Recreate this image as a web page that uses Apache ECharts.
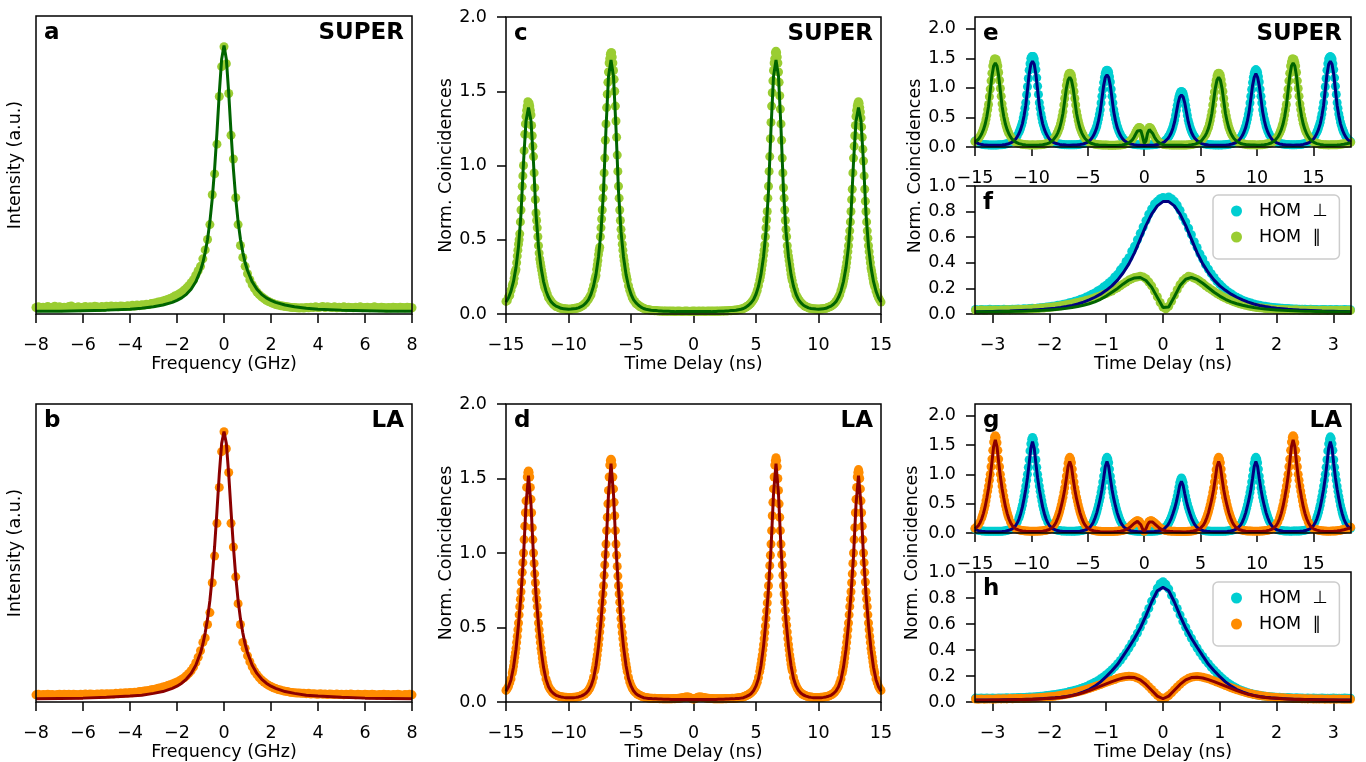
<!DOCTYPE html>
<html><head><meta charset="utf-8">
<script src="https://cdn.jsdelivr.net/npm/echarts@6.0.0/dist/echarts.min.js"></script>
<style>html,body{margin:0;padding:0;background:#fff}#chart{width:1366px;height:762px}</style>
</head><body><div id="chart"></div>
<script>
// ---------------- DATA ----------------
// Panels a/b: spectra, data on a 0.1 GHz grid from -8 GHz
const A_X0 = -8, A_STEP = 0.1;
const A_DATA = [.022,.024,.021,.023,.022,.025,.022,.023,.026,.022,
.024,.021,.023,.022,.025,.027,.023,.022,.024,.021,
.023,.025,.022,.024,.023,.026,.024,.022,.025,.023,
.026,.024,.027,.025,.026,.024,.027,.026,.025,.028,
.026,.029,.027,.03,.028,.031,.03,.033,.032,.035,
.036,.038,.04,.041,.044,.046,.049,.052,.055,.06,
.063,.068,.073,.08,.087,.095,.105,.115,.13,.145,
.16,.185,.215,.25,.3,.4,.47,.57,.73,.83,
.897,.84,.74,.6,.52,.39,.3,.23,.19,.16,
.135,.115,.098,.085,.074,.065,.058,.052,.046,.042,
.038,.035,.032,.03,.028,.027,.025,.024,.023,.022,
.022,.021,.02,.021,.02,.022,.021,.023,.022,.024,
.022,.023,.025,.022,.024,.023,.022,.024,.021,.023,
.022,.024,.021,.023,.022,.021,.023,.022,.024,.021,
.022,.023,.021,.022,.024,.022,.021,.023,.022,.02,
.022,.021,.023,.022,.021,.023,.022,.021,.023,.022,
.021];
const B_DATA = [.024,.026,.023,.025,.024,.026,.024,.025,.023,.025,
.026,.024,.026,.025,.026,.024,.026,.025,.024,.026,
.025,.027,.025,.027,.026,.025,.027,.026,.028,.026,
.028,.027,.028,.027,.029,.028,.03,.029,.031,.03,
.032,.031,.033,.033,.035,.035,.037,.038,.039,.041,
.042,.044,.046,.048,.05,.052,.055,.058,.06,.064,
.067,.071,.076,.081,.088,.096,.105,.117,.132,.15,
.172,.2,.215,.26,.3,.4,.49,.6,.72,.84,
.907,.85,.77,.6,.52,.42,.33,.26,.2,.18,
.155,.135,.118,.103,.092,.082,.074,.067,.061,.056,
.052,.048,.045,.042,.04,.038,.036,.035,.033,.032,
.031,.03,.03,.029,.029,.028,.029,.027,.028,.027,
.026,.028,.026,.027,.025,.027,.026,.025,.027,.025,
.026,.024,.026,.025,.027,.025,.024,.026,.025,.024,
.026,.025,.024,.026,.025,.023,.025,.024,.026,.024,
.025,.023,.025,.024,.026,.024,.023,.025,.024,.026,
.024];
const AB_FIT_X = [-8,-7,-6,-5,-4,-3.5,-3,-2.6,-2.2,-2,-1.8,-1.6,-1.4,-1.2,-1,-0.9,-0.8,-0.7,-0.6,-0.5,-0.4,-0.3,-0.2,-0.1,0,
0.1,0.2,0.3,0.4,0.5,0.6,0.7,0.8,0.9,1,1.2,1.4,1.6,1.8,2,2.2,2.6,3,3.5,4,5,6,7,8];
const A_FIT = [.009,.009,.011,.013,.016,.019,.024,.030,.039,.046,.054,.066,.083,.108,.146,.172,.207,.251,.310,.387,.486,.608,.742,.855,.901,
.855,.742,.608,.486,.387,.310,.251,.207,.172,.146,.108,.083,.066,.054,.046,.039,.030,.024,.019,.016,.013,.011,.009,.009];
const B_FIT = [.011,.012,.013,.016,.020,.023,.029,.035,.046,.053,.063,.077,.096,.123,.165,.194,.232,.279,.341,.421,.521,.640,.765,.867,.908,
.867,.765,.640,.521,.421,.341,.279,.232,.194,.165,.123,.096,.077,.063,.053,.046,.035,.029,.023,.020,.016,.013,.012,.011];

// Panels c/d: data on 0.1 ns grid, fits on 0.2 ns grid, from -15 ns
const CD_X0 = -15, CD_DSTEP = 0.1, CD_FSTEP = 0.2;
const C_DATA = [.085,.09,.115,.125,.16,.19,.21,.275,.30,.39,
.47,.54,.70,.86,1.0,1.21,1.33,1.40,1.42,1.40,
1.34,1.20,1.06,.85,.68,.58,.46,.37,.32,.27,
.22,.18,.16,.135,.11,.10,.085,.075,.065,.06,
.05,.05,.045,.04,.04,.035,.037,.033,.035,.03,
.034,.031,.034,.033,.037,.035,.04,.038,.043,.045,
.05,.055,.06,.07,.075,.09,.10,.115,.13,.16,
.19,.23,.26,.33,.40,.45,.58,.70,.85,1.05,
1.28,1.48,1.63,1.72,1.76,1.73,1.64,1.50,1.30,1.07,
.86,.70,.57,.47,.39,.33,.27,.23,.19,.16,
.135,.11,.095,.085,.07,.065,.06,.05,.048,.042,
.038,.035,.03,.03,.028,.027,.026,.024,.024,.022,
.023,.022,.02,.021,.02,.019,.02,.018,.02,.019,
.018,.02,.019,.018,.02,.017,.019,.018,.02,.018,
.019,.017,.019,.018,.02,.018,.019,.017,.019,.018,
.02,.018,.019,.017,.02,.018,.019,.018,.02,.017,
.019,.018,.02,.019,.018,.02,.018,.019,.02,.018,
.02,.019,.021,.02,.021,.02,.022,.021,.022,.023,
.022,.024,.025,.025,.027,.027,.029,.031,.033,.034,
.039,.041,.047,.052,.058,.066,.074,.086,.097,.113,
.134,.158,.192,.228,.272,.33,.395,.465,.58,.69,
.86,1.06,1.29,1.49,1.64,1.72,1.77,1.73,1.63,1.47,
1.28,1.05,.85,.70,.57,.46,.39,.33,.27,.225,
.19,.16,.13,.115,.10,.088,.076,.068,.061,.053,
.05,.046,.042,.039,.038,.036,.036,.034,.033,.033,
.032,.034,.033,.035,.036,.037,.039,.042,.046,.049,
.053,.058,.066,.073,.084,.097,.113,.13,.158,.185,
.22,.265,.315,.38,.46,.56,.69,.84,1.05,1.2,
1.33,1.4,1.43,1.39,1.32,1.19,1.03,.84,.69,.56,
.46,.38,.31,.265,.215,.185,.155,.13,.11,.095,
.08];
// extra points between the 0.1 ns bins around each peak of c/d (from centre-1.25 ns, 0.1 ns apart)
const CD_PEAKS = [-13.2, -6.6, 6.6, 13.2];
const C_PEAK_DATA = [.205,.24,.29,.345,.43,.50,.62,.78,.93,1.1,1.28,1.37,1.43,1.42,1.37,1.27,1.13,.95,.77,.63,.52,.41,.345,.295,.245,.2,
.245,.30,.36,.43,.52,.64,.78,.95,1.17,1.39,1.56,1.69,1.75,1.76,1.69,1.58,1.40,1.19,.96,.78,.63,.52,.43,.36,.30,.25,
.25,.30,.36,.43,.52,.635,.78,.96,1.18,1.40,1.57,1.69,1.76,1.76,1.69,1.56,1.38,1.17,.95,.78,.63,.52,.42,.36,.30,.245,
.2,.24,.29,.345,.42,.51,.62,.77,.95,1.13,1.27,1.37,1.42,1.42,1.36,1.26,1.11,.93,.76,.62,.51,.42,.345,.29,.24,.2];
const C_FIT = [.08,.11,.154,.219,.314,.454,.675,1.02,1.30,1.39,
1.30,1.02,.675,.454,.314,.22,.155,.112,.083,.066,
.053,.046,.038,.036,.034,.032,.033,.035,.037,.041,
.049,.059,.075,.097,.133,.187,.267,.384,.556,.828,
1.25,1.60,1.71,1.60,1.25,.828,.556,.384,.267,.187,
.133,.097,.075,.059,.046,.037,.032,.029,.025,.024,
.023,.021,.02,.019,.018,.018,.017,.017,.016,.016,
.016,.016,.016,.016,.016,.016,.016,.016,.016,.016,
.016,.016,.016,.017,.017,.018,.018,.019,.02,.021,
.023,.024,.025,.029,.032,.037,.046,.059,.075,.097,
.133,.187,.267,.384,.556,.828,1.25,1.60,1.71,1.60,
1.25,.828,.556,.384,.267,.187,.133,.097,.075,.059,
.049,.041,.037,.035,.033,.032,.034,.036,.038,.046,
.053,.066,.083,.112,.155,.22,.314,.454,.675,1.02,
1.30,1.39,1.30,1.02,.675,.454,.314,.219,.154,.11,
.08];
const D_DATA = [.078,.09,.105,.13,.155,.195,.24,.30,.36,.44,
.53,.64,.74,.87,1.0,1.18,1.35,1.51,1.55,1.51,
1.36,1.17,1.0,.86,.74,.64,.53,.44,.36,.295,
.24,.195,.155,.13,.105,.09,.078,.066,.06,.052,
.048,.043,.04,.037,.036,.034,.033,.031,.032,.03,
.031,.03,.031,.03,.032,.031,.033,.034,.036,.038,
.042,.045,.05,.054,.062,.068,.08,.092,.112,.135,
.165,.21,.255,.315,.385,.47,.56,.67,.78,.92,
1.06,1.24,1.42,1.59,1.63,1.59,1.43,1.25,1.06,.91,
.78,.67,.56,.465,.385,.315,.255,.205,.165,.135,
.112,.092,.08,.068,.062,.054,.049,.045,.041,.037,
.034,.031,.03,.028,.027,.026,.026,.025,.024,.025,
.023,.024,.023,.022,.023,.022,.021,.022,.021,.022,
.021,.022,.021,.022,.023,.022,.024,.023,.025,.026,
.027,.029,.03,.032,.033,.034,.033,.03,.026,.022,
.02,.022,.026,.03,.033,.034,.033,.032,.03,.029,
.027,.026,.025,.024,.023,.023,.022,.022,.021,.022,
.021,.022,.021,.022,.022,.023,.022,.023,.024,.023,
.024,.025,.024,.026,.026,.027,.028,.029,.031,.032,
.035,.038,.042,.046,.05,.055,.062,.07,.08,.093,
.11,.133,.165,.205,.255,.315,.385,.465,.56,.665,
.78,.915,1.06,1.25,1.43,1.59,1.64,1.58,1.42,1.24,
1.06,.92,.78,.67,.56,.47,.385,.315,.255,.21,
.165,.135,.112,.092,.08,.068,.061,.054,.049,.045,
.041,.038,.036,.034,.033,.032,.031,.03,.031,.03,
.031,.03,.032,.031,.033,.034,.036,.037,.04,.043,
.048,.052,.06,.066,.078,.09,.105,.13,.155,.195,
.24,.295,.36,.44,.53,.64,.74,.86,1.0,1.17,
1.36,1.51,1.56,1.5,1.35,1.18,1.0,.87,.74,.64,
.53,.44,.36,.3,.24,.195,.155,.13,.105,.09,
.078];
const D_PEAK_DATA = [.215,.27,.33,.40,.485,.585,.69,.805,.935,1.09,1.27,1.44,1.54,1.54,1.44,1.27,1.09,.93,.80,.69,.585,.485,.40,.33,.265,.215,
.23,.285,.35,.425,.515,.615,.725,.85,.99,1.15,1.33,1.51,1.62,1.62,1.51,1.34,1.15,.985,.845,.725,.615,.51,.425,.35,.285,.23,
.23,.285,.35,.425,.51,.61,.72,.845,.985,1.15,1.34,1.51,1.62,1.62,1.5,1.33,1.15,.99,.85,.725,.615,.515,.425,.35,.285,.23,
.215,.265,.33,.40,.485,.585,.69,.80,.93,1.09,1.27,1.44,1.54,1.54,1.43,1.27,1.09,.935,.805,.69,.585,.485,.40,.33,.27,.215];
const D_FIT = [.072,.102,.15,.233,.354,.519,.722,.978,1.325,1.52,
1.325,.978,.722,.519,.354,.234,.151,.103,.074,.057,
.045,.039,.034,.031,.029,.029,.029,.029,.031,.034,
.040,.047,.058,.077,.108,.158,.245,.372,.546,.76,
1.03,1.395,1.60,1.395,1.03,.76,.546,.372,.245,.158,
.108,.075,.056,.044,.036,.029,.026,.023,.023,.021,
.021,.02,.02,.019,.018,.018,.017,.017,.016,.016,
.016,.016,.016,.016,.016,.016,.016,.016,.016,.016,
.016,.016,.016,.017,.017,.018,.018,.019,.02,.02,
.021,.021,.023,.023,.026,.029,.036,.044,.056,.075,
.108,.158,.245,.372,.546,.76,1.03,1.395,1.60,1.395,
1.03,.76,.546,.372,.245,.158,.108,.077,.058,.047,
.040,.034,.031,.029,.029,.029,.029,.031,.034,.039,
.045,.057,.074,.103,.151,.234,.354,.519,.722,.978,
1.325,1.52,1.325,.978,.722,.519,.354,.233,.15,.102,
.072];

// Panels e/g: 0.15 ns grid from -15 ns
const EG_X0 = -15, EG_STEP = 0.15;
const E_PAR_DATA = [.09,.11,.14,.185,.235,.31,.40,.54,.72,.98,1.25,1.44,1.49,
1.43,1.26,.99,.73,.54,.40,.305,.23,.18,.135,.105,.085,
.07,.06,.052,.046,.041,.04,.037,.035,.034,.036,
.035,.034,.036,.037,.04,.043,.048,.055,.064,.076,.095,.12,.152,.197,.26,.335,.45,.6,.82,1.04,1.2,1.25,
1.21,1.05,.82,.6,.45,.335,.255,.195,.15,.115,.093,
.075,.062,.054,.047,.043,.038,.036,.034,.033,.032,.032,
.031,.03,.031,.03,.031,.032,.033,.035,.039,.044,.052,.063,.08,.105,.135,.185,.245,.3,.33,.31,.2,.07,
.115,.26,.33,.31,.255,.19,.14,.1,.075,.058,.048,.042,.038,.036,.035,.034,.034,.033,.033,.032,.033,.032,
.032,.033,.034,.036,.039,.043,.048,.055,.064,.078,.096,.12,.153,.198,.26,.335,.45,.6,.82,1.04,1.2,1.25,
1.21,1.05,.82,.6,.45,.335,.255,.196,.15,.116,.093,.075,
.064,.055,.049,.044,.04,.038,.037,.036,.036,.035,
.035,.036,.038,.04,.044,.049,.054,.062,.073,.088,.11,.14,.18,.235,.305,.4,.54,.72,.98,1.25,1.44,1.49,
1.43,1.26,.99,.73,.54,.40,.305,.235,.18,.137,.108,.086,
.072,.061,.053,.047,.043,.04,.038,.036,.035,.036,
.036,.036,.037,.039,.041,.045,.049,.054,.059,.065,.072,.08];
// extra points between bins around each peak of e/g (from centre-1.125 ns, 0.15 ns apart)
const E_PAR_PEAKS = [-13.2, -6.6, 0, 6.6, 13.2];
const E_PERP_PEAKS = [-9.9, -3.3, 3.3, 9.9, 16.5];
const E_PAR_PEAK_DATA = [.27,.355,.47,.63,.85,1.12,1.37,1.49,1.48,1.37,1.13,.86,.635,.47,.35,.265,
.23,.30,.39,.525,.71,.93,1.13,1.24,1.24,1.14,.94,.71,.525,.39,.295,.225,
.12,.16,.215,.275,.32,.325,.26,.13,.08,.19,.3,.325,.285,.22,.165,.12,
.225,.30,.39,.525,.71,.93,1.13,1.24,1.24,1.14,.94,.71,.525,.39,.295,.225,
.27,.355,.47,.63,.86,1.12,1.37,1.49,1.48,1.37,1.12,.86,.635,.47,.355,.265];
const E_PERP_PEAK_DATA = [.285,.37,.49,.655,.885,1.16,1.41,1.53,1.53,1.41,1.17,.89,.655,.49,.37,.28,
.245,.315,.415,.55,.745,.975,1.18,1.29,1.29,1.19,.98,.745,.55,.415,.315,.24,
.18,.23,.30,.40,.535,.705,.85,.93,.93,.85,.705,.535,.40,.30,.23,.18,
.24,.315,.415,.55,.745,.975,1.18,1.29,1.29,1.19,.98,.745,.55,.415,.315,.24,
.285,.37,.49,.655,.885,1.16,1.41,1.52,1.52,1.41,1.17,.89,.655,.49,.37,.28];
const E_PAR_FIT = [.082,.103,.131,.171,.224,.293,.384,.516,.69,.945,1.2,1.37,1.42,
1.37,1.2,.945,.69,.516,.384,.293,.224,.171,.131,.103,.082,
.068,.057,.049,.044,.039,.036,.034,.031,.030,.031,
.031,.030,.031,.032,.035,.039,.044,.050,.059,.071,.089,.111,.144,.187,.244,.319,.428,.571,.781,.993,1.132,1.18,
1.132,.993,.781,.571,.428,.319,.244,.187,.144,.111,.089,
.071,.058,.050,.043,.039,.034,.031,.030,.028,.028,.027,
.026,.026,.026,.025,.026,.026,.028,.03,.033,.037,.045,.055,.07,.092,.12,.165,.22,.27,.30,.28,.18,.06,
.10,.235,.295,.28,.23,.17,.125,.09,.065,.05,.041,.035,.033,.031,.031,.029,.029,.029,.028,.028,.028,.028,
.027,.027,.029,.031,.033,.038,.042,.049,.058,.071,.089,.111,.144,.187,.244,.319,.428,.571,.781,.993,1.132,1.18,
1.132,.993,.781,.571,.428,.319,.244,.187,.144,.111,.089,.071,
.06,.051,.045,.040,.036,.034,.033,.032,.032,.031,
.030,.031,.034,.036,.039,.044,.049,.057,.068,.082,.103,.131,.171,.224,.293,.384,.516,.69,.945,1.20,1.37,1.42,
1.37,1.20,.945,.69,.516,.384,.293,.224,.171,.131,.103,.082,
.068,.057,.049,.044,.039,.036,.034,.031,.030,.031,
.031,.031,.032,.034,.036,.04,.044,.048,.053,.058,.065,.073];
const E_PERP_DATA = [.1,.08,.066,.055,.048,.042,.039,.036,.035,.034,.034,.033,.034,
.033,.036,.037,.04,.043,.05,.056,.066,.078,.096,.12,.15,.195,.25,.325,.42,.56,.75,1.02,1.3,1.5,1.53,
1.49,1.31,1.03,.75,.56,.42,.32,.245,.188,.145,.114,.092,
.077,.065,.057,.051,.046,.043,.04,.04,.037,.036,
.037,.038,.039,.04,.043,.048,.053,.06,.07,.084,.104,.13,.165,.212,.275,.355,.475,.63,.86,1.09,1.25,1.3,
1.26,1.1,.86,.63,.475,.355,.272,.208,.16,.125,.1,.082,
.069,.059,.051,.047,.042,.038,.037,.035,.034,.033,
.034,.034,.035,.036,.038,.041,.044,.049,.056,.066,.08,.098,.124,.158,.203,.262,.345,.455,.62,.79,.9,.94,
.905,.79,.62,.455,.345,.262,.203,.157,.122,.096,.079,.065,
.056,.049,.044,.041,.038,.036,.035,.035,.034,.035,
.034,.035,.037,.038,.042,.046,.052,.059,.069,.082,.102,.128,.163,.21,.272,.355,.475,.63,.86,1.09,1.25,1.31,
1.26,1.1,.86,.63,.475,.355,.272,.208,.162,.126,.102,.082,
.07,.06,.053,.049,.045,.042,.041,.04,.038,.037,
.038,.04,.041,.042,.046,.052,.059,.068,.08,.096,.12,.15,.195,.25,.325,.42,.56,.75,1.02,1.3,1.49,1.53,
1.49,1.31,1.03,.75,.56,.42,.32,.245,.188,.145,.114,.092];
const E_PERP_FIT = [.09,.072,.058,.048,.041,.036,.032,.030,.029,.028,.028,.028,.028,
.027,.030,.031,.033,.036,.042,.047,.056,.067,.083,.105,.134,.175,.228,.299,.392,.527,.704,.965,1.227,1.40,1.45,
1.40,1.227,.965,.704,.527,.392,.299,.228,.175,.134,.105,.083,
.069,.058,.05,.044,.039,.036,.034,.033,.031,.031,
.031,.032,.033,.033,.036,.041,.045,.051,.061,.073,.092,.115,.149,.194,.254,.332,.446,.595,.815,1.035,1.18,1.22,
1.18,1.035,.815,.595,.446,.332,.254,.194,.149,.115,.092,.073,
.061,.051,.044,.040,.035,.031,.031,.029,.028,.027,
.028,.028,.028,.029,.031,.034,.037,.041,.048,.057,.070,.086,.111,.143,.186,.241,.322,.428,.585,.742,.846,.88,
.846,.742,.585,.428,.322,.241,.186,.143,.111,.086,.070,.057,
.048,.041,.037,.034,.031,.029,.028,.028,.028,.029,
.028,.029,.031,.031,.035,.039,.044,.051,.060,.072,.091,.115,.149,.194,.254,.332,.446,.595,.815,1.035,1.18,1.24,
1.18,1.035,.815,.595,.446,.332,.254,.194,.149,.115,.093,.074,
.062,.052,.046,.042,.038,.035,.035,.034,.031,.031,
.031,.033,.034,.035,.039,.044,.050,.058,.069,.083,.105,.134,.175,.228,.299,.392,.527,.704,.965,1.227,1.40,1.45,
1.40,1.227,.965,.704,.527,.392,.299,.228,.175,.134,.105,.083];
const G_PAR_DATA = [.08,.105,.14,.19,.26,.355,.475,.63,.8,1.0,1.26,1.55,1.66,
1.54,1.26,1.0,.8,.63,.47,.35,.255,.185,.135,.102,.08,
.066,.056,.047,.041,.037,.034,.032,.031,.031,.03,
.031,.031,.031,.032,.034,.037,.041,.047,.055,.067,.083,.11,.148,.2,.275,.365,.48,.61,.77,.97,1.19,1.29,
1.2,.97,.77,.61,.48,.365,.272,.2,.146,.107,.082,
.065,.053,.045,.039,.034,.03,.028,.026,.025,.024,.024,
.024,.025,.025,.027,.029,.031,.034,.037,.042,.05,.058,.074,.093,.118,.145,.172,.195,.207,.197,.152,.08,.03,
.078,.15,.197,.207,.195,.172,.145,.118,.093,.074,.058,.049,.041,.036,.033,.031,.029,.028,.027,.026,.026,.026,
.025,.025,.026,.028,.03,.034,.039,.045,.054,.066,.084,.11,.148,.2,.275,.365,.48,.61,.77,.97,1.19,1.29,
1.2,.97,.77,.61,.48,.365,.272,.2,.146,.107,.083,
.067,.056,.048,.042,.038,.035,.033,.032,.031,.031,.031,
.031,.031,.033,.035,.037,.041,.047,.055,.066,.08,.105,.14,.19,.26,.355,.475,.63,.8,1.0,1.26,1.55,1.66,
1.54,1.26,1.0,.8,.63,.47,.35,.255,.185,.135,.102,.08,
.066,.056,.047,.041,.037,.034,.032,.031,.031,.031,
.032,.033,.035,.038,.042,.047,.054,.061,.069,.079,.089,.1];
const G_PAR_PEAK_DATA = [.305,.415,.55,.715,.9,1.13,1.41,1.63,1.63,1.41,1.13,.9,.715,.55,.41,.30,
.235,.32,.42,.545,.69,.87,1.08,1.26,1.26,1.09,.87,.69,.545,.42,.32,.235,
.13,.16,.185,.203,.205,.178,.118,.05,.05,.115,.177,.205,.203,.185,.16,.13,
.235,.32,.42,.545,.69,.87,1.08,1.26,1.26,1.09,.87,.69,.545,.42,.32,.235,
.305,.415,.55,.715,.9,1.13,1.41,1.63,1.63,1.41,1.13,.9,.715,.55,.41,.30];
const G_PERP_PEAK_DATA = [.305,.415,.55,.71,.9,1.12,1.4,1.6,1.6,1.4,1.12,.9,.71,.55,.41,.30,
.235,.32,.42,.545,.69,.87,1.08,1.26,1.26,1.09,.87,.69,.545,.42,.32,.235,
.175,.235,.31,.4,.5,.63,.78,.91,.91,.78,.63,.5,.4,.31,.235,.175,
.235,.32,.42,.545,.69,.87,1.08,1.26,1.26,1.09,.87,.69,.545,.42,.32,.235,
.305,.415,.55,.71,.9,1.12,1.4,1.6,1.61,1.41,1.12,.9,.71,.55,.41,.30];
const G_PAR_FIT = [.072,.095,.126,.176,.243,.335,.449,.597,.759,.958,1.205,1.475,1.59,
1.475,1.205,.958,.759,.597,.449,.335,.243,.176,.126,.095,.072,
.059,.049,.041,.035,.031,.029,.027,.025,.026,.026,
.026,.026,.026,.027,.029,.032,.036,.042,.049,.060,.075,.100,.138,.189,.26,.348,.461,.585,.738,.927,1.134,1.22,
1.134,.927,.738,.585,.461,.348,.26,.189,.138,.100,.075,
.058,.047,.039,.033,.028,.024,.022,.020,.018,.018,.018,
.018,.019,.019,.021,.023,.025,.028,.030,.035,.044,.051,.066,.084,.108,.135,.162,.186,.198,.187,.14,.07,.025,
.07,.14,.187,.198,.186,.162,.135,.108,.084,.066,.051,.043,.035,.031,.028,.026,.024,.023,.021,.021,.020,.020,
.019,.019,.020,.022,.024,.028,.033,.039,.047,.058,.075,.100,.138,.189,.26,.348,.461,.585,.738,.927,1.134,1.22,
1.134,.927,.738,.585,.461,.348,.26,.189,.138,.100,.075,
.060,.049,.042,.036,.032,.029,.027,.026,.026,.026,.026,
.026,.025,.027,.029,.031,.035,.041,.049,.059,.072,.095,.126,.176,.243,.335,.449,.597,.759,.958,1.205,1.475,1.59,
1.475,1.205,.958,.759,.597,.449,.335,.243,.176,.126,.095,.072,
.059,.049,.041,.035,.031,.029,.027,.026,.026,.026,
.027,.028,.030,.033,.037,.042,.048,.055,.063,.072,.082,.093];
const G_PERP_DATA = [.07,.056,.047,.041,.036,.033,.031,.03,.029,.028,.028,.028,.029,
.028,.028,.029,.031,.034,.038,.045,.053,.065,.08,.103,.137,.19,.26,.355,.475,.625,.8,1.0,1.25,1.52,1.63,
1.51,1.25,1.0,.8,.625,.47,.35,.255,.187,.136,.103,.08,
.066,.055,.047,.041,.036,.033,.032,.031,.031,.031,
.031,.03,.031,.032,.034,.037,.042,.048,.056,.067,.084,.11,.148,.2,.275,.365,.48,.61,.77,.97,1.19,1.29,
1.2,.97,.77,.61,.48,.365,.272,.2,.146,.107,.082,.065,
.054,.046,.04,.036,.032,.03,.029,.028,.028,.028,
.028,.028,.028,.029,.03,.032,.035,.039,.045,.053,.065,.084,.112,.15,.203,.268,.352,.445,.56,.7,.86,.94,
.86,.7,.56,.445,.352,.268,.203,.15,.112,.084,.065,.053,
.045,.039,.035,.032,.03,.029,.028,.028,.028,.028,
.028,.029,.03,.031,.034,.037,.042,.048,.056,.067,.084,.11,.148,.2,.275,.365,.48,.61,.77,.97,1.19,1.29,
1.2,.97,.77,.61,.48,.365,.272,.2,.146,.107,.083,.066,
.056,.048,.042,.038,.035,.033,.032,.031,.031,.032,
.032,.032,.033,.035,.038,.042,.049,.056,.067,.081,.103,.137,.19,.26,.355,.475,.625,.8,1.0,1.25,1.52,1.64,
1.52,1.25,1.0,.8,.625,.47,.35,.255,.187,.136,.103,.08];
const G_PERP_FIT = [.06,.048,.04,.034,.03,.027,.025,.024,.023,.022,.022,.022,.022,
.021,.021,.022,.024,.028,.032,.039,.046,.057,.071,.093,.124,.173,.238,.329,.441,.586,.745,.94,1.182,1.447,1.56,
1.447,1.182,.94,.745,.586,.441,.329,.238,.173,.124,.093,.072,
.058,.048,.041,.035,.030,.027,.026,.025,.026,.026,
.025,.024,.025,.026,.028,.031,.036,.041,.049,.059,.075,.100,.138,.189,.26,.348,.461,.585,.738,.927,1.134,1.22,
1.134,.927,.738,.585,.461,.348,.26,.189,.138,.100,.075,.059,
.048,.040,.035,.030,.026,.025,.023,.021,.022,.022,
.021,.021,.022,.023,.024,.026,.029,.033,.038,.046,.057,.075,.102,.138,.189,.251,.332,.421,.53,.665,.812,.88,
.812,.665,.53,.421,.332,.251,.189,.138,.102,.075,.057,.046,
.038,.033,.029,.026,.024,.023,.022,.021,.021,.022,
.022,.022,.023,.025,.027,.030,.035,.041,.048,.059,.075,.100,.138,.189,.26,.348,.461,.585,.738,.927,1.134,1.22,
1.134,.927,.738,.585,.461,.348,.26,.189,.138,.100,.076,.059,
.049,.041,.036,.031,.028,.027,.026,.024,.025,.026,
.026,.026,.027,.028,.032,.035,.042,.048,.059,.072,.093,.124,.173,.238,.329,.441,.586,.745,.94,1.182,1.447,1.56,
1.447,1.182,.94,.745,.586,.441,.329,.238,.173,.124,.093,.071];

// Panels f/h: data on 0.05 ns grid, fits on 0.1 ns grid, from -3.3 ns
const FH_X0 = -3.3, FH_DSTEP = 0.05, FH_FSTEP = 0.1;
const F_PERP_DATA = [.035,.032,.036,.033,.034,.037,.033,.035,.036,.034,
.037,.036,.035,.038,.037,.039,.038,.041,.04,.042,
.044,.043,.047,.049,.05,.054,.056,.06,.063,.068,
.07,.076,.08,.087,.092,.1,.105,.115,.122,.133,
.142,.155,.165,.18,.192,.21,.225,.245,.262,.29,
.31,.345,.37,.41,.44,.49,.53,.58,.63,.68,
.73,.78,.82,.86,.88,.9,.91,.905,.915,.9,
.88,.85,.81,.76,.72,.67,.62,.565,.52,.47,
.43,.385,.35,.315,.285,.255,.232,.21,.19,.172,
.158,.142,.13,.12,.108,.1,.092,.085,.078,.072,
.068,.063,.06,.056,.053,.05,.048,.046,.045,.043,
.042,.041,.039,.04,.038,.037,.038,.036,.037,.035,
.036,.034,.036,.035,.034,.036,.033,.035,.034,.033,
.035,.034,.033];
const F_PAR_DATA = [.03,.028,.031,.029,.03,.032,.029,.031,.03,.032,
.031,.033,.032,.034,.033,.035,.036,.035,.038,.039,
.04,.042,.043,.046,.047,.05,.052,.055,.057,.061,
.064,.068,.072,.076,.08,.085,.09,.096,.1,.107,
.112,.12,.126,.135,.142,.152,.16,.172,.18,.195,
.205,.22,.235,.25,.265,.275,.285,.29,.295,.29,
.275,.25,.22,.18,.135,.09,.055,.04,.06,.1,
.145,.19,.23,.26,.28,.295,.29,.28,.27,.255,
.24,.22,.205,.19,.175,.16,.148,.135,.125,.113,
.104,.095,.088,.08,.074,.068,.063,.058,.055,.051,
.048,.046,.043,.041,.04,.038,.036,.035,.035,.033,
.034,.032,.031,.033,.03,.031,.03,.029,.031,.029,
.03,.028,.03,.029,.028,.03,.028,.029,.028,.03,
.028,.029,.028];
const F_PERP_FIT = [.017,.018,.019,.02,.021,.022,.023,.025,.027,.029,
.031,.034,.037,.041,.045,.051,.058,.067,.078,.093,
.11,.131,.155,.185,.22,.265,.322,.392,.48,.585,
.69,.78,.845,.878,.878,.845,.78,.69,.585,.48,
.392,.322,.265,.22,.185,.155,.131,.11,.093,.078,
.067,.058,.051,.045,.041,.037,.034,.031,.029,.027,
.025,.023,.022,.021,.02,.019,.018];
const F_PAR_FIT = [.017,.017,.017,.018,.018,.019,.02,.021,.022,.023,
.025,.027,.029,.032,.035,.039,.044,.05,.058,.068,
.08,.095,.115,.14,.17,.2,.235,.265,.282,.285,
.262,.21,.13,.05,.055,.135,.222,.272,.285,.27,
.24,.205,.17,.14,.115,.095,.08,.068,.058,.05,
.044,.039,.035,.032,.029,.027,.025,.023,.022,.021,
.02,.019,.018,.018,.017,.017,.017];
const H_PERP_DATA = [.03,.028,.031,.029,.03,.028,.031,.029,.03,.031,
.03,.032,.031,.033,.032,.034,.035,.034,.037,.038,
.039,.041,.043,.045,.047,.05,.052,.055,.058,.062,
.065,.07,.074,.08,.085,.09,.097,.104,.112,.12,
.13,.14,.152,.163,.178,.192,.21,.228,.248,.27,
.295,.32,.35,.38,.415,.45,.49,.53,.575,.62,
.67,.72,.775,.83,.875,.91,.925,.905,.87,.82,
.77,.72,.67,.62,.575,.53,.49,.45,.415,.38,
.35,.32,.295,.268,.245,.222,.2,.18,.162,.145,
.13,.117,.105,.095,.086,.078,.071,.065,.06,.055,
.051,.048,.045,.043,.041,.039,.037,.036,.035,.033,
.034,.032,.031,.032,.03,.031,.029,.03,.028,.03,
.029,.028,.03,.028,.029,.028,.03,.028,.029,.028,
.03,.028,.029];
const H_PAR_DATA = [.023,.021,.024,.022,.023,.024,.022,.023,.025,.024,
.025,.024,.026,.025,.027,.026,.028,.027,.029,.029,
.03,.031,.033,.034,.036,.038,.04,.042,.045,.048,
.051,.055,.059,.063,.068,.073,.078,.084,.09,.097,
.104,.111,.119,.127,.135,.143,.151,.159,.166,.173,
.182,.188,.192,.196,.198,.197,.193,.185,.174,.158,
.14,.118,.096,.073,.052,.035,.028,.034,.05,.07,
.093,.115,.136,.155,.17,.182,.19,.195,.197,.195,
.19,.185,.178,.17,.162,.153,.145,.136,.127,.118,
.11,.102,.094,.087,.08,.074,.068,.063,.058,.054,
.05,.047,.044,.041,.039,.037,.035,.033,.032,.03,
.029,.028,.027,.026,.026,.025,.025,.024,.025,.023,
.024,.023,.024,.022,.023,.022,.023,.022,.023,.022,
.021,.022,.021];
const H_PERP_FIT = [.015,.015,.015,.016,.016,.017,.018,.019,.02,.021,
.022,.024,.026,.029,.032,.037,.043,.051,.062,.077,
.096,.122,.155,.195,.24,.29,.355,.421,.491,.569,
.665,.769,.856,.882,.856,.769,.665,.569,.491,.421,
.355,.29,.24,.195,.155,.122,.096,.077,.062,.051,
.043,.037,.032,.029,.026,.024,.022,.021,.02,.019,
.018,.017,.016,.016,.015,.015,.015];
const H_PAR_FIT = [.014,.014,.014,.015,.015,.016,.017,.018,.019,.02,
.021,.023,.025,.028,.031,.035,.041,.049,.059,.072,
.087,.105,.122,.14,.157,.172,.185,.19,.188,.17,
.135,.09,.045,.025,.045,.09,.135,.17,.188,.19,
.185,.172,.157,.14,.122,.105,.087,.072,.059,.049,
.041,.035,.031,.028,.025,.023,.021,.02,.019,.018,
.017,.016,.015,.015,.014,.014,.014];

// Tick labels
const TICKS_FREQ = [-8,-6,-4,-2,0,2,4,6,8];
const TICKS_T15 = [-15,-10,-5,0,5,10,15];
const TICKS_T3 = [-3,-2,-1,0,1,2,3];
const TICKS_Y2 = [0,0.5,1,1.5,2];
const TICKS_Y1 = [0,0.2,0.4,0.6,0.8,1];

// ---------------- CHART ----------------
const FONT = 'DejaVu Sans';
const FS = 17.5;
const LG = '#9acd32', DG = '#006400', CY = '#00ced1', NV = '#000080', OR = '#ff8c00', DR = '#8b0000';
const r3 = v => Math.round(v * 1000) / 1000;
const onGrid = (x0, step, ys) => ys.map((y, i) => [r3(x0 + i * step), y]);
const onXs = (xs, ys) => xs.map((x, i) => [x, ys[i]]);
const aroundPeaks = (centers, off, step, n, ys) => {
  const out = [];
  centers.forEach((c, j) => { for (let i = 0; i < n; i++) out.push([r3(c - off + i * step), ys[j * n + i]]); });
  return out;
};
const fmtX = v => (v < 0 ? '\u2212' : '') + Math.abs(Math.round(v * 100) / 100);
const fmtY = v => v.toFixed(1);

const grids = [
  {left:36, top:16, width:376, height:298},
  {left:36, top:404, width:376, height:298},
  {left:506, top:17, width:375, height:297},
  {left:506, top:404, width:375, height:298},
  {left:975, top:17, width:376, height:130},
  {left:975, top:186, width:376, height:128},
  {left:975, top:404, width:376, height:129},
  {left:975, top:572, width:376, height:130}
].map(g => Object.assign({show:true, borderColor:'#000', borderWidth:1.5, backgroundColor:'transparent', z:10}, g));

function xAx(gi, min, max, ticks, name) {
  return {type:'value', gridIndex:gi, min, max, name: name || '', nameLocation:'middle', nameGap:41,
    nameTextStyle:{fontFamily:FONT, fontSize:FS, color:'#000'},
    axisLine:{show:false, onZero:false}, splitLine:{show:false},
    axisTick:{show:true, customValues:ticks, length:9, lineStyle:{color:'#000', width:1.5}},
    axisLabel:{show:true, customValues:ticks, margin:22, fontFamily:FONT, fontSize:FS, color:'#000', formatter:fmtX}};
}
function yAx(gi, min, max, ticks, name, gap) {
  const o = {type:'value', gridIndex:gi, min, max, name: name || '', nameLocation:'middle', nameGap:gap || 50,
    nameTextStyle:{fontFamily:FONT, fontSize:FS, color:'#000'},
    axisLine:{show:false, onZero:false}, splitLine:{show:false}};
  if (ticks) {
    o.axisTick = {show:true, customValues:ticks, length:9, lineStyle:{color:'#000', width:1.5}};
    o.axisLabel = {show:true, customValues:ticks, margin:19, fontFamily:FONT, fontSize:FS, color:'#000', formatter:fmtY};
  } else {
    o.axisTick = {show:false}; o.axisLabel = {show:false};
  }
  return o;
}

const xAxes = [
  xAx(0, -8, 8, TICKS_FREQ, 'Frequency (GHz)'),
  xAx(1, -8, 8, TICKS_FREQ, 'Frequency (GHz)'),
  xAx(2, -15, 15, TICKS_T15, 'Time Delay (ns)'),
  xAx(3, -15, 15, TICKS_T15, 'Time Delay (ns)'),
  xAx(4, -15, 18.33, TICKS_T15, ''),
  xAx(5, -3.31, 3.31, TICKS_T3, 'Time Delay (ns)'),
  xAx(6, -15, 18.33, TICKS_T15, ''),
  xAx(7, -3.31, 3.31, TICKS_T3, 'Time Delay (ns)')
];
const yAxes = [
  yAx(0, 0, 1, null, 'Intensity (a.u.)', 12),
  yAx(1, 0, 1, null, 'Intensity (a.u.)', 12),
  yAx(2, 0, 2, TICKS_Y2, 'Norm. Coincidences', 50),
  yAx(3, 0, 2, TICKS_Y2, 'Norm. Coincidences', 50),
  yAx(4, 0, 2.2, TICKS_Y2, ''),
  yAx(5, 0, 1, TICKS_Y1, ''),
  yAx(6, 0, 2.2, TICKS_Y2, ''),
  yAx(7, 0, 1, TICKS_Y1, '')
];

const series = [];
function sc(gi, data, color, name) {
  series.push({type:'scatter', name, xAxisIndex:gi, yAxisIndex:gi, data, symbol:'circle', symbolSize:9,
    itemStyle:{color, opacity:1}, silent:true, z:2});
}
function ln(gi, data, color) {
  series.push({type:'line', xAxisIndex:gi, yAxisIndex:gi, data, showSymbol:false, symbol:'none',
    lineStyle:{color, width:3}, silent:true, z:3});
}
sc(0, onGrid(A_X0, A_STEP, A_DATA), LG); ln(0, onXs(AB_FIT_X, A_FIT), DG);
sc(1, onGrid(A_X0, A_STEP, B_DATA), OR); ln(1, onXs(AB_FIT_X, B_FIT), DR);
sc(2, onGrid(CD_X0, CD_DSTEP, C_DATA).concat(aroundPeaks(CD_PEAKS, 1.25, 0.1, 26, C_PEAK_DATA)), LG);
ln(2, onGrid(CD_X0, CD_FSTEP, C_FIT), DG);
sc(3, onGrid(CD_X0, CD_DSTEP, D_DATA).concat(aroundPeaks(CD_PEAKS, 1.25, 0.1, 26, D_PEAK_DATA)), OR);
ln(3, onGrid(CD_X0, CD_FSTEP, D_FIT), DR);
sc(4, onGrid(EG_X0, EG_STEP, E_PERP_DATA).concat(aroundPeaks(E_PERP_PEAKS, 1.125, 0.15, 16, E_PERP_PEAK_DATA)), CY);
sc(4, onGrid(EG_X0, EG_STEP, E_PAR_DATA).concat(aroundPeaks(E_PAR_PEAKS, 1.125, 0.15, 16, E_PAR_PEAK_DATA)), LG);
ln(4, onGrid(EG_X0, EG_STEP, E_PERP_FIT), NV); ln(4, onGrid(EG_X0, EG_STEP, E_PAR_FIT), DG);
sc(5, onGrid(FH_X0, FH_DSTEP, F_PERP_DATA), CY, 'fPerp'); sc(5, onGrid(FH_X0, FH_DSTEP, F_PAR_DATA), LG, 'fPar');
ln(5, onGrid(FH_X0, FH_FSTEP, F_PERP_FIT), NV); ln(5, onGrid(FH_X0, FH_FSTEP, F_PAR_FIT), DG);
sc(6, onGrid(EG_X0, EG_STEP, G_PERP_DATA).concat(aroundPeaks(E_PERP_PEAKS, 1.125, 0.15, 16, G_PERP_PEAK_DATA)), CY);
sc(6, onGrid(EG_X0, EG_STEP, G_PAR_DATA).concat(aroundPeaks(E_PAR_PEAKS, 1.125, 0.15, 16, G_PAR_PEAK_DATA)), OR);
ln(6, onGrid(EG_X0, EG_STEP, G_PERP_FIT), NV); ln(6, onGrid(EG_X0, EG_STEP, G_PAR_FIT), DR);
sc(7, onGrid(FH_X0, FH_DSTEP, H_PERP_DATA), CY, 'hPerp'); sc(7, onGrid(FH_X0, FH_DSTEP, H_PAR_DATA), OR, 'hPar');
ln(7, onGrid(FH_X0, FH_FSTEP, H_PERP_FIT), NV); ln(7, onGrid(FH_X0, FH_FSTEP, H_PAR_FIT), DR);

const LEG = {fPerp:'HOM  \u22A5', fPar:'HOM  \u2225', hPerp:'HOM  \u22A5', hPar:'HOM  \u2225'};
function legend(top, names) {
  return {show:true, selectedMode:false, orient:'vertical', left:1213, top,
    data: names.map(n => ({name:n, icon:'circle'})), formatter: n => LEG[n],
    itemWidth:11, itemHeight:11, itemGap:6, padding:[6, 12, 12, 18],
    borderColor:'#cccccc', borderWidth:1.5, borderRadius:5, backgroundColor:'rgba(255,255,255,0.8)',
    textStyle:{fontFamily:FONT, fontSize:FS, color:'#000', padding:[0, 0, 0, 12], lineHeight:20}, z:20};
}

const BOLD = 'bold 23px "DejaVu Sans"';
function tag(x, y, text, align) {
  return {type:'text', x, y, z:30, silent:true, style:{text, font:BOLD, fill:'#000', align: align || 'left', verticalAlign:'top'}};
}
const graphics = [
  tag(44, 22, 'a'), tag(404, 22, 'SUPER', 'right'),
  tag(44, 410, 'b'), tag(404, 410, 'LA', 'right'),
  tag(514, 23, 'c'), tag(873, 23, 'SUPER', 'right'),
  tag(514, 410, 'd'), tag(873, 410, 'LA', 'right'),
  tag(983, 23, 'e'), tag(1342, 23, 'SUPER', 'right'),
  tag(983, 192, 'f'),
  tag(983, 410, 'g'), tag(1342, 410, 'LA', 'right'),
  tag(983, 578, 'h'),
  {type:'text', x:915, y:166, rotation:Math.PI/2, z:30, silent:true,
   style:{text:'Norm. Coincidences', font:FS + 'px "DejaVu Sans"', fill:'#000', align:'center', verticalAlign:'middle'}},
  {type:'text', x:912, y:553, rotation:Math.PI/2, z:30, silent:true,
   style:{text:'Norm. Coincidences', font:FS + 'px "DejaVu Sans"', fill:'#000', align:'center', verticalAlign:'middle'}}
];

const chart = echarts.init(document.getElementById('chart'), null, {renderer:'canvas'});
chart.setOption({
  animation:false,
  backgroundColor:'#ffffff',
  textStyle:{fontFamily:FONT},
  grid: grids,
  xAxis: xAxes,
  yAxis: yAxes,
  legend: [legend(195, ['fPerp','fPar']), legend(582, ['hPerp','hPar'])],
  graphic: graphics,
  series
});
</script></body></html>
